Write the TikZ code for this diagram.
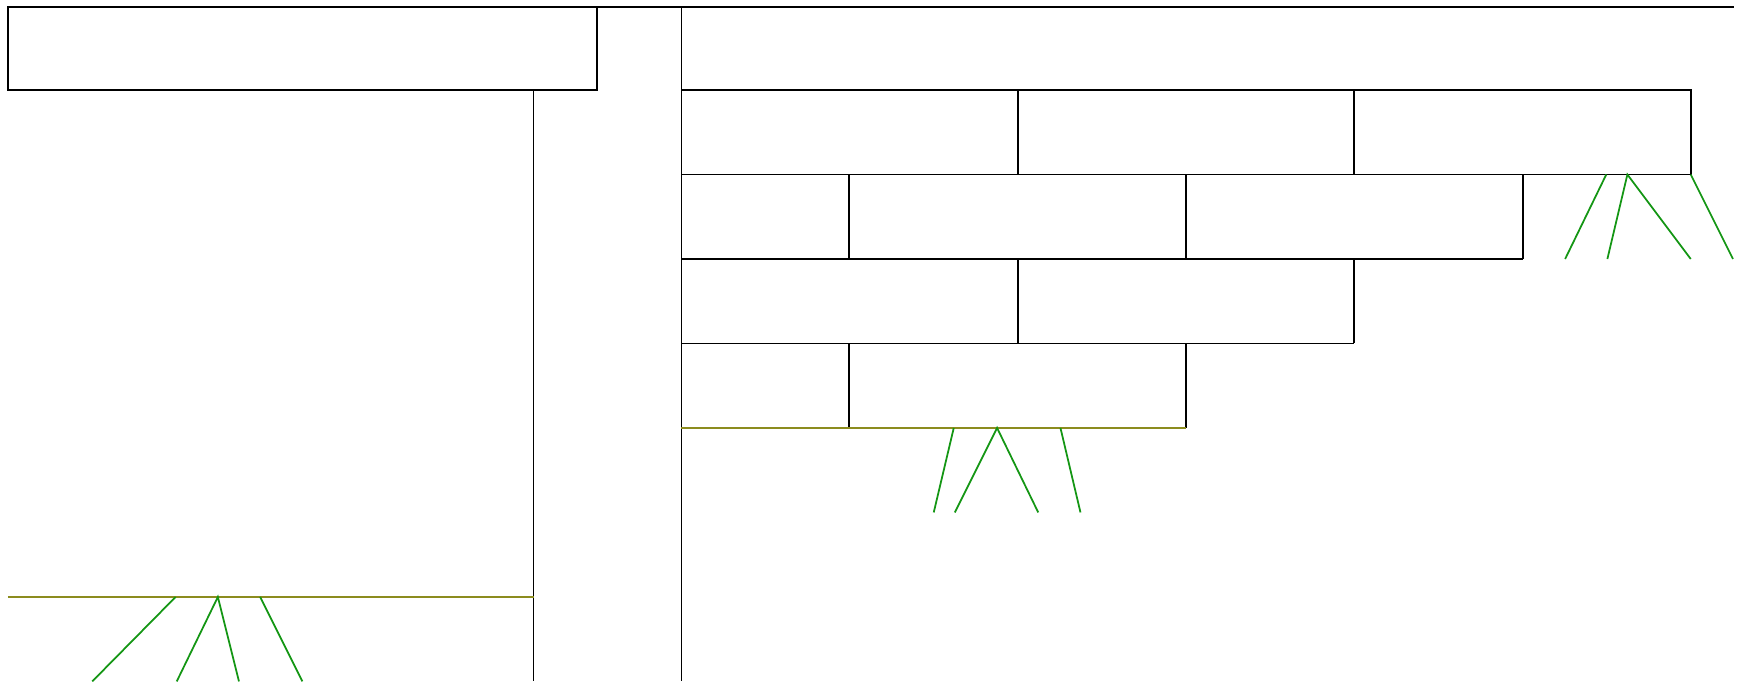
\documentclass[tikz,border=0pt]{standalone}
\definecolor{grn}{RGB}{20,150,20}
\definecolor{olv}{RGB}{140,140,30}
\begin{document}
\begin{tikzpicture}[x=0.01cm,y=-0.01cm,
  wall/.style={draw=black,line width=0.45pt},
  root/.style={draw=grn,line width=0.45pt},
  ground/.style={draw=olv,line width=0.45pt}]
\useasboundingbox (0,0) rectangle (1568,613);
% top-left slab
\draw[wall] (7,6) rectangle (537,81);
\draw[wall] (537,6) -- (1560,6);
\draw[wall] (480,81) -- (480,613);
\draw[wall] (613,6) -- (613,613);
% row 1
\draw[wall] (613,81) -- (1521,81) -- (1521,157);
\draw[wall] (916,81) -- (916,157);
\draw[wall] (1218,81) -- (1218,157);
% row 2
\draw[wall] (613,157) -- (1521,157);
\draw[wall] (764,157) -- (764,233);
\draw[wall] (1067,157) -- (1067,233);
\draw[wall] (1370,157) -- (1370,233);
% row 3
\draw[wall] (613,233) -- (1370,233);
\draw[wall] (916,233) -- (916,309);
\draw[wall] (1218,233) -- (1218,309);
% row 4
\draw[wall] (613,309) -- (1218,309);
\draw[wall] (764,309) -- (764,385);
\draw[wall] (1067,309) -- (1067,385);
% ground lines
\draw[ground] (613,385) -- (1067,385);
\draw[ground] (7,537) -- (480,537);
% roots middle
\draw[root] (858,385) -- (840,461);
\draw[root] (859,461) -- (897,385) -- (934,461);
\draw[root] (954,385) -- (972,461);
% roots right
\draw[root] (1445,157) -- (1408,233);
\draw[root] (1446,233) -- (1464,157) -- (1521,233);
\draw[root] (1521,157) -- (1559,233);
% roots left
\draw[root] (158,537) -- (83,613);
\draw[root] (159,613) -- (196,537) -- (215,613);
\draw[root] (234,537) -- (272,613);
\end{tikzpicture}
\end{document}
